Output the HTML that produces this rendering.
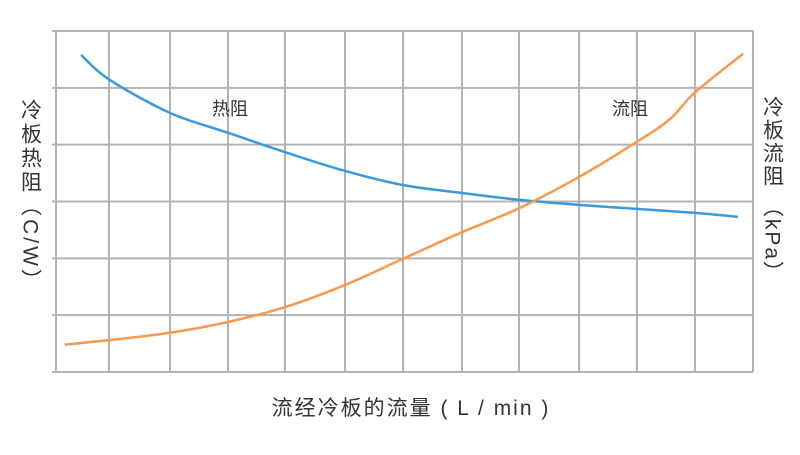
<!DOCTYPE html>
<html><head><meta charset="utf-8"><style>
body{margin:0;background:#fff;}
svg text{font-family:"Liberation Sans","Noto Sans CJK SC",sans-serif;fill:#333;}
</style></head><body>
<svg width="800" height="450" viewBox="0 0 800 450" id="c">
<g id="grid"></g>
<g id="series"></g>
<text x="230" y="115" font-size="18" text-anchor="middle">热阻</text>
<text x="630" y="115" font-size="18" text-anchor="middle">流阻</text>
<text x="411" y="415" font-size="21" letter-spacing="2" text-anchor="middle">流经冷板的流量 ( L / min )</text>
<text x="30" y="196" font-size="21" letter-spacing="3" text-anchor="middle" style="writing-mode:vertical-rl">冷板热阻（C/W）</text>
<text x="772" y="190" font-size="21" letter-spacing="2" text-anchor="middle" style="writing-mode:vertical-rl">冷板流阻 （kPa）</text>
</svg>
<script>
const thermalX=[0.43,0.91,1.96,2.96,3.94,4.97,5.97,6.99,7.97,9.0,10.0,11.0,11.74];
const thermalY=[5.58,5.15,4.56,4.21,3.87,3.54,3.29,3.15,3.03,2.94,2.87,2.80,2.73];
const flowX=[0.15,0.91,1.96,2.96,3.94,4.97,5.97,6.99,7.97,9.0,10.0,10.57,11.0,11.83];
const flowY=[0.48,0.56,0.69,0.88,1.14,1.53,1.99,2.46,2.88,3.43,4.05,4.45,4.92,5.60];
const L=56,R=753,T=31,B=372;
const xs=v=>L+(R-L)*v/12, ys=v=>B-(B-T)*v/6;
const NS='http://www.w3.org/2000/svg';
const grid=document.getElementById('grid');
const vx=[56,109,170,228,285,345,403,462,519,579,637,695,753];
for(const x of vx){const l=document.createElementNS(NS,'line');
l.setAttribute('x1',x);l.setAttribute('x2',x);l.setAttribute('y1',T);l.setAttribute('y2',B);
l.setAttribute('stroke','#b3b3b3');l.setAttribute('stroke-width','2');


grid.appendChild(l);}
for(let i=0;i<=6;i++){const y=ys(i);const l=document.createElementNS(NS,'line');
l.setAttribute('x1',52);l.setAttribute('x2',R);l.setAttribute('y1',y);l.setAttribute('y2',y);
l.setAttribute('stroke','#b3b3b3');l.setAttribute('stroke-width','2');


grid.appendChild(l);}
function path(X,Y){const p=X.map((x,i)=>[xs(x),ys(Y[i])]);let d='M'+p[0][0]+','+p[0][1];
for(let i=0;i<p.length-1;i++){const p0=p[Math.max(0,i-1)],p1=p[i],p2=p[i+1],p3=p[Math.min(p.length-1,i+2)];
const c1=[p1[0]+(p2[0]-p0[0])/6,p1[1]+(p2[1]-p0[1])/6],c2=[p2[0]-(p3[0]-p1[0])/6,p2[1]-(p3[1]-p1[1])/6];
d+=`C${c1[0]},${c1[1]} ${c2[0]},${c2[1]} ${p2[0]},${p2[1]}`;}return d;}
const s=document.getElementById('series');
const a=document.createElementNS(NS,'path');a.setAttribute('d',path(thermalX,thermalY));
a.setAttribute('fill','none');a.setAttribute('stroke','#3a9ad9');a.setAttribute('stroke-width','2.5');


s.appendChild(a);
const b=document.createElementNS(NS,'path');b.setAttribute('d',path(flowX,flowY));
b.setAttribute('fill','none');b.setAttribute('stroke','#f79a50');b.setAttribute('stroke-width','2.5');


s.appendChild(b);
</script>
</body></html>
